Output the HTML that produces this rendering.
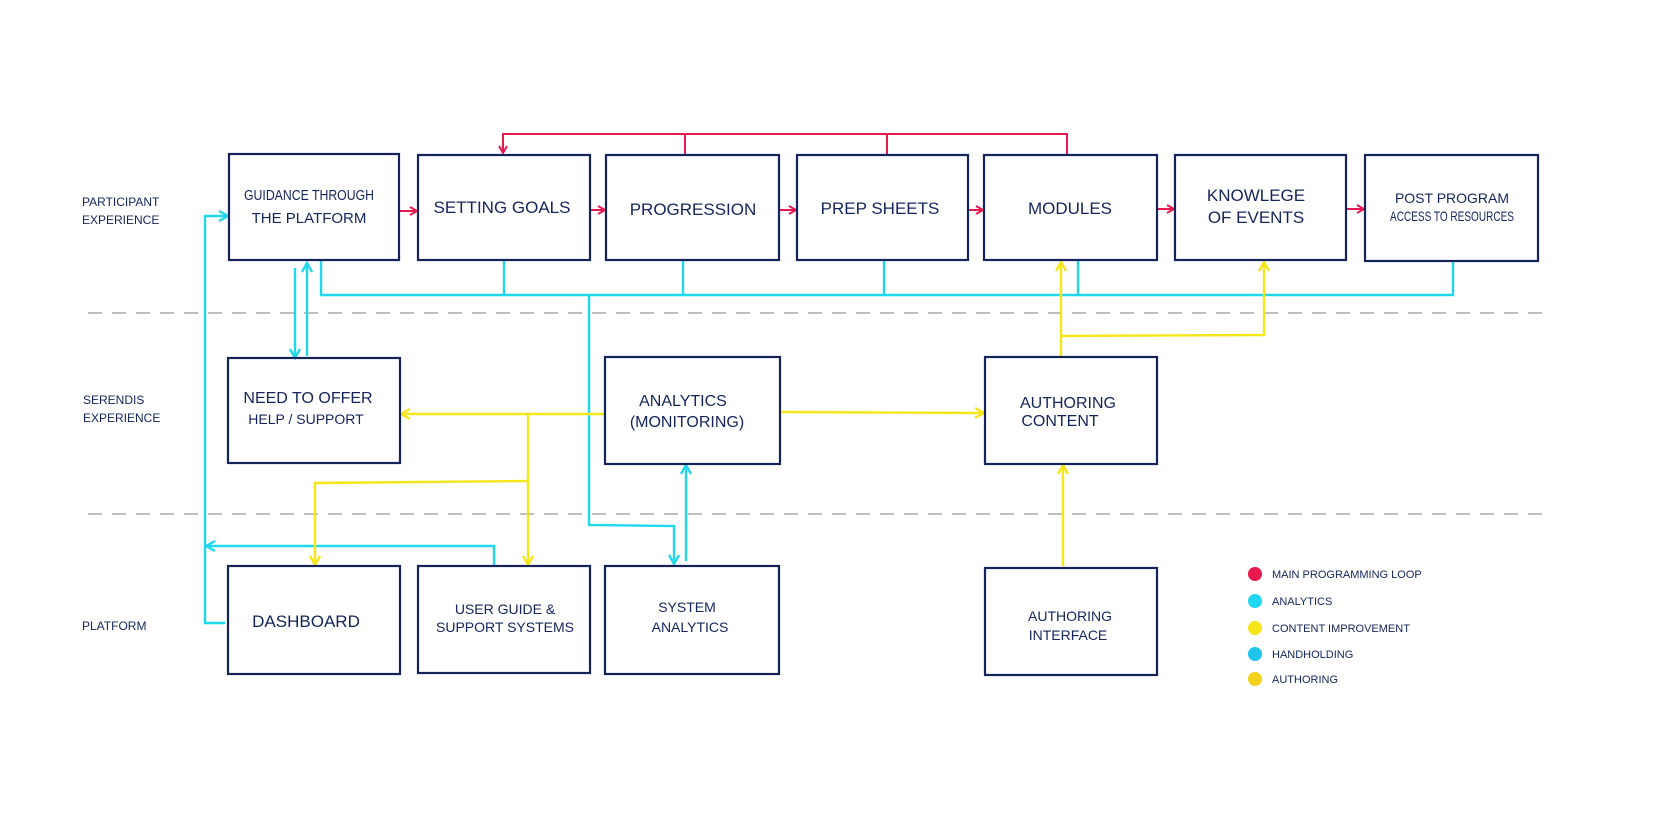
<!DOCTYPE html>
<html><head><meta charset="utf-8"><style>
body{margin:0;background:#fff;}
svg{display:block}
text{font-family:"Liberation Sans",sans-serif;fill:#14245a;text-transform:uppercase}
.b{fill:none;stroke:#14245a;stroke-width:2.2}
.r{stroke:#e8194e;stroke-width:2;fill:none}
.c{stroke:#20d8ee;stroke-width:2.4;fill:none}
.y{stroke:#f5e61a;stroke-width:2.4;fill:none}
.d{stroke:#aaa;stroke-width:1.5;stroke-dasharray:14 10;fill:none}
.t{font-size:17px;text-anchor:middle}
.l{font-size:12px}
.g{font-size:11px}
</style></head><body>
<svg width="1664" height="834" viewBox="0 0 1664 834">
<defs>
<marker id="ar" markerWidth="10" markerHeight="10" refX="8" refY="5" orient="auto" markerUnits="userSpaceOnUse"><path d="M1,1 L8,5 L1,9" fill="none" stroke="#e8194e" stroke-width="2"/></marker>
<marker id="ac" markerWidth="12" markerHeight="12" refX="10" refY="6" orient="auto" markerUnits="userSpaceOnUse"><path d="M1,1 L10,6 L1,11" fill="none" stroke="#20d8ee" stroke-width="2.4"/></marker>
<marker id="ay" markerWidth="12" markerHeight="12" refX="10" refY="6" orient="auto" markerUnits="userSpaceOnUse"><path d="M1,1 L10,6 L1,11" fill="none" stroke="#f5e61a" stroke-width="2.4"/></marker>
</defs>
<line class="d" x1="88" y1="313" x2="1550" y2="313"/>
<line class="d" x1="88" y1="514" x2="1550" y2="514"/>
<polyline class="r" points="1067,154 1067,134 503,134 503,153" marker-end="url(#ar)"/>
<line class="r" x1="685" y1="134" x2="685" y2="154"/>
<line class="r" x1="887" y1="134" x2="887" y2="154"/>
<line class="r" x1="400" y1="211" x2="417" y2="211" marker-end="url(#ar)"/>
<line class="r" x1="590" y1="210" x2="605" y2="210" marker-end="url(#ar)"/>
<line class="r" x1="779" y1="210" x2="796" y2="210" marker-end="url(#ar)"/>
<line class="r" x1="968" y1="210" x2="983" y2="210" marker-end="url(#ar)"/>
<line class="r" x1="1157" y1="209" x2="1174" y2="209" marker-end="url(#ar)"/>
<line class="r" x1="1346" y1="209" x2="1364" y2="209" marker-end="url(#ar)"/>
<polyline class="c" points="321,261 321,295 1453,295 1453,261"/>
<line class="c" x1="504" y1="261" x2="504" y2="295"/>
<line class="c" x1="683" y1="261" x2="683" y2="295"/>
<line class="c" x1="884" y1="261" x2="884" y2="295"/>
<line class="c" x1="1078" y1="261" x2="1078" y2="295"/>
<polyline class="c" points="589,295 589,525 674,526 674,564" marker-end="url(#ac)"/>
<line class="c" x1="686" y1="561" x2="686" y2="465" marker-end="url(#ac)"/>
<line class="c" x1="295" y1="268" x2="295" y2="358" marker-end="url(#ac)"/>
<line class="c" x1="307" y1="356" x2="307" y2="263" marker-end="url(#ac)"/>
<polyline class="c" points="225,623 205,623 205,216 228,216" marker-end="url(#ac)"/>
<polyline class="c" points="494,566 494,546 206,546" marker-end="url(#ac)"/>
<line class="y" x1="605" y1="414" x2="401" y2="414" marker-end="url(#ay)"/>
<polyline class="y" points="528,414 528,565" marker-end="url(#ay)"/>
<polyline class="y" points="528,481 315,483 315,565" marker-end="url(#ay)"/>
<line class="y" x1="780" y1="412" x2="984" y2="413" marker-end="url(#ay)"/>
<line class="y" x1="1061" y1="357" x2="1061" y2="262" marker-end="url(#ay)"/>
<polyline class="y" points="1061,336 1264,335 1264,262" marker-end="url(#ay)"/>
<line class="y" x1="1063" y1="566" x2="1063" y2="465" marker-end="url(#ay)"/>
<rect class="b" x="229" y="154" width="170" height="106"/>
<rect class="b" x="418" y="155" width="172" height="105"/>
<rect class="b" x="606" y="155" width="173" height="105"/>
<rect class="b" x="797" y="155" width="171" height="105"/>
<rect class="b" x="984" y="155" width="173" height="105"/>
<rect class="b" x="1175" y="155" width="171" height="105"/>
<rect class="b" x="1365" y="155" width="173" height="106"/>
<rect class="b" x="228" y="358" width="172" height="105"/>
<rect class="b" x="605" y="357" width="175" height="107"/>
<rect class="b" x="985" y="357" width="172" height="107"/>
<rect class="b" x="228" y="566" width="172" height="108"/>
<rect class="b" x="418" y="566" width="172" height="107"/>
<rect class="b" x="605" y="566" width="174" height="108"/>
<rect class="b" x="985" y="568" width="172" height="107"/>
<text class="t" x="309" y="200" style="font-size:15px" textLength="130" lengthAdjust="spacingAndGlyphs">Guidance through</text>
<text class="t" x="309" y="223" style="font-size:15px">the platform</text>
<text class="t" x="502" y="213">Setting goals</text>
<text class="t" x="693" y="215">Progression</text>
<text class="t" x="880" y="214">Prep sheets</text>
<text class="t" x="1070" y="214">Modules</text>
<text class="t" x="1256" y="201">Knowlege</text>
<text class="t" x="1256" y="223">of events</text>
<text class="t" x="1452" y="203" style="font-size:14px">Post program</text>
<text class="t" x="1452" y="221" style="font-size:14px" textLength="124" lengthAdjust="spacingAndGlyphs">access to resources</text>
<text class="t" x="308" y="403" style="font-size:16px">Need to offer</text>
<text class="t" x="306" y="424" style="font-size:14px">help / support</text>
<text class="t" x="683" y="406" style="font-size:16px">Analytics</text>
<text class="t" x="687" y="427" style="font-size:16px">(Monitoring)</text>
<text class="t" x="1068" y="408" style="font-size:16px">Authoring</text>
<text class="t" x="1060" y="426" style="font-size:16px">content</text>
<text class="t" x="306" y="627">Dashboard</text>
<text class="t" x="505" y="614" style="font-size:14px">User guide &amp;</text>
<text class="t" x="505" y="632" style="font-size:14px">support systems</text>
<text class="t" x="687" y="612" style="font-size:14px">System</text>
<text class="t" x="690" y="632" style="font-size:14px">analytics</text>
<text class="t" x="1070" y="621" style="font-size:14px">Authoring</text>
<text class="t" x="1068" y="640" style="font-size:14px">interface</text>
<text class="l" x="82" y="206">Participant</text>
<text class="l" x="82" y="224">experience</text>
<text class="l" x="83" y="404">Serendis</text>
<text class="l" x="83" y="422">experience</text>
<text class="l" x="82" y="630">Platform</text>
<circle cx="1255" cy="574" r="7" fill="#e8194e"/>
<circle cx="1255" cy="601" r="7" fill="#20d8ee"/>
<circle cx="1255" cy="628" r="7" fill="#f5e61a"/>
<circle cx="1255" cy="654" r="7" fill="#1ec4ea"/>
<circle cx="1255" cy="679" r="7" fill="#f2d21a"/>
<text class="g" x="1272" y="578">Main programming loop</text>
<text class="g" x="1272" y="605">Analytics</text>
<text class="g" x="1272" y="632">Content improvement</text>
<text class="g" x="1272" y="658">Handholding</text>
<text class="g" x="1272" y="683">Authoring</text>
</svg>
</body></html>
